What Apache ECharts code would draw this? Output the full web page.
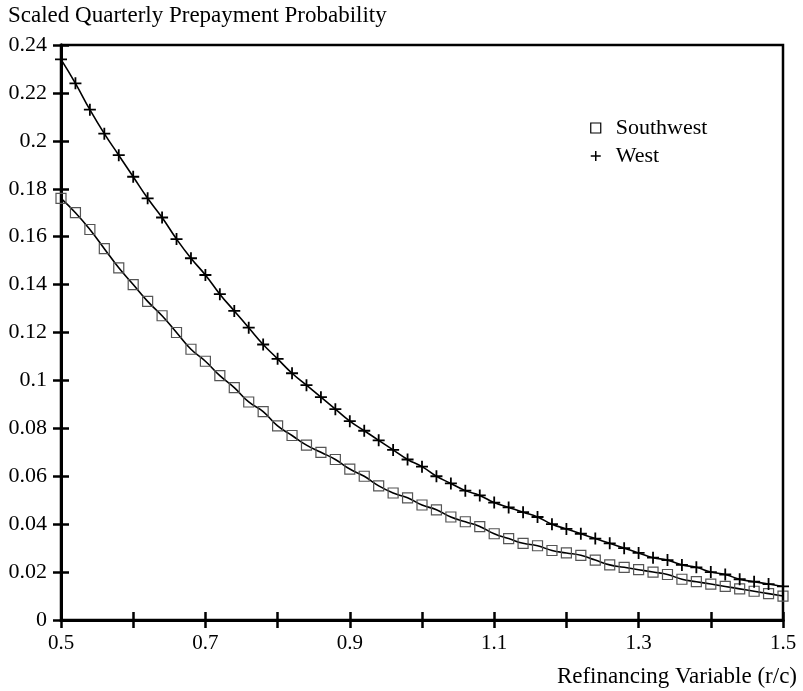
<!DOCTYPE html>
<html>
<head>
<meta charset="utf-8">
<script src="https://cdn.jsdelivr.net/npm/echarts@6/dist/echarts.min.js"></script>
<style>
  html, body { margin: 0; padding: 0; background: #fff; }
  #chart { width: 803px; height: 691px; }
</style>
</head>
<body>
<div id="chart"></div>
<script>
// Refinancing variable (r/c), one point every 0.02
var refi = [0.50, 0.52, 0.54, 0.56, 0.58, 0.60, 0.62, 0.64, 0.66, 0.68,
            0.70, 0.72, 0.74, 0.76, 0.78, 0.80, 0.82, 0.84, 0.86, 0.88,
            0.90, 0.92, 0.94, 0.96, 0.98, 1.00, 1.02, 1.04, 1.06, 1.08,
            1.10, 1.12, 1.14, 1.16, 1.18, 1.20, 1.22, 1.24, 1.26, 1.28,
            1.30, 1.32, 1.34, 1.36, 1.38, 1.40, 1.42, 1.44, 1.46, 1.48, 1.50];

var southwest = [0.176, 0.170, 0.163, 0.155, 0.147, 0.140, 0.133, 0.127, 0.120, 0.113,
                 0.108, 0.102, 0.097, 0.091, 0.087, 0.081, 0.077, 0.073, 0.070, 0.067,
                 0.063, 0.060, 0.056, 0.053, 0.051, 0.048, 0.046, 0.043, 0.041, 0.039,
                 0.036, 0.034, 0.032, 0.031, 0.029, 0.028, 0.027, 0.025, 0.023, 0.022,
                 0.021, 0.020, 0.019, 0.017, 0.016, 0.015, 0.014, 0.013, 0.012, 0.011, 0.010];

var west = [0.234, 0.224, 0.213, 0.203, 0.194, 0.185, 0.176, 0.168, 0.159, 0.151,
            0.144, 0.136, 0.129, 0.122, 0.115, 0.109, 0.103, 0.098, 0.093, 0.088,
            0.083, 0.079, 0.075, 0.071, 0.067, 0.064, 0.060, 0.057, 0.054, 0.052,
            0.049, 0.047, 0.045, 0.043, 0.040, 0.038, 0.036, 0.034, 0.032, 0.030,
            0.028, 0.026, 0.025, 0.023, 0.022, 0.020, 0.019, 0.017, 0.016, 0.015, 0.014];

var seriesNames = ['Southwest', 'West'];

var FONT = 'Liberation Serif';
var PLUS = 'path://M0,5L10,5M5,0L5,10';
var SQUARE = 'path://M0,0L10,0L10,10L0,10Z';

function pairs(ys) {
    return refi.map(function(x, i) { return [x, ys[i]]; });
}

var chart = echarts.init(document.getElementById('chart'));

// axe commun, dupliqué pour avoir des graduations des deux côtés
function valueAxisX(inside, showLabel) {
    return {
        type: 'value', min: 0.5, max: 1.5, interval: 0.1,
        position: 'bottom',
        axisLine: { show: true, lineStyle: { color: '#000', width: 3 } },
        axisTick: { show: true, inside: inside, length: 8, lineStyle: { color: '#000', width: 2.5 } },
        splitLine: { show: false },
        axisLabel: {
            show: showLabel, margin: 13, color: '#000', fontFamily: FONT, fontSize: 21,
            formatter: function(v) {
                return Math.round(v * 10) % 2 === 1 ? String(+v.toFixed(1)) : '';
            }
        }
    };
}

function valueAxisY(inside, showLabel) {
    return {
        type: 'value', min: 0, max: 0.24, interval: 0.02,
        position: 'left',
        axisLine: { show: true, lineStyle: { color: '#000', width: 3 } },
        axisTick: { show: true, inside: inside, length: 8, lineStyle: { color: '#000', width: 2.5 } },
        splitLine: { show: false },
        axisLabel: {
            show: showLabel, margin: 14, color: '#000', fontFamily: FONT, fontSize: 22,
            formatter: function(v) { return String(+v.toFixed(2)); }
        }
    };
}

var option = {
    backgroundColor: '#fff',
    animation: false,
    title: [
        {
            text: 'Scaled Quarterly Prepayment Probability',
            left: 3, top: -1,
            textStyle: { fontFamily: FONT, fontSize: 23, fontWeight: 'normal', color: '#000' }
        },
        {
            text: 'Refinancing Variable (r/c)',
            right: 1, top: 660,
            textStyle: { fontFamily: FONT, fontSize: 23, fontWeight: 'normal', color: '#000' }
        }
    ],
    grid: {
        left: 61, right: 20, top: 45, bottom: 71,
        show: true, borderColor: '#000', borderWidth: 2.5
    },
    legend: {
        orient: 'vertical',
        left: 585, top: 112,
        itemGap: 6,
        itemWidth: 30, itemHeight: 10,
        textStyle: { fontFamily: FONT, fontSize: 22, color: '#000' },
        data: [
            { name: seriesNames[0], icon: SQUARE,
              itemStyle: { color: 'transparent', borderColor: '#000', borderWidth: 1.2 } },
            { name: seriesNames[1], icon: PLUS,
              itemStyle: { color: 'transparent', borderColor: '#000', borderWidth: 1.5 } }
        ]
    },
    xAxis: [valueAxisX(true, true), valueAxisX(false, false)],
    yAxis: [valueAxisY(true, true), valueAxisY(false, false)],
    series: [
        {
            name: seriesNames[0],
            type: 'line',
            data: pairs(southwest),
            smooth: true,
            symbol: 'rect',
            symbolSize: 10,
            itemStyle: { color: 'transparent', borderColor: '#555', borderWidth: 1.2 },
            lineStyle: { color: '#000', width: 1.6 },
            z: 3
        },
        {
            name: seriesNames[1],
            type: 'line',
            data: pairs(west),
            smooth: true,
            symbol: PLUS,
            symbolSize: 12,
            itemStyle: { color: 'transparent', borderColor: '#000', borderWidth: 1.8 },
            lineStyle: { color: '#000', width: 1.6 },
            z: 3
        }
    ]
};

chart.setOption(option);
</script>
</body>
</html>
